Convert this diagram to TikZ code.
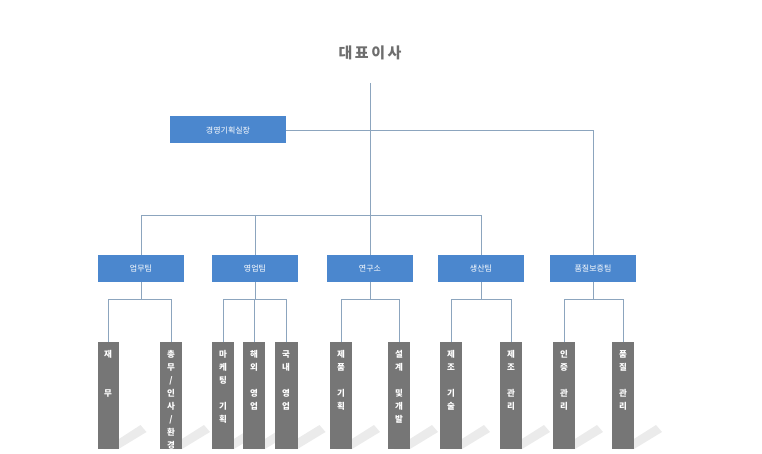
\documentclass[tikz,border=0pt]{standalone}
\usepackage{fontspec}
\setmainfont{Noto Sans CJK KR}
\begin{document}
\begin{tikzpicture}[x=1pt,y=-1pt,
  team/.style={fill={rgb,255:red,75;green,135;blue,206}, text=white, minimum width=86pt, minimum height=27pt, inner sep=0pt, font=\fontsize{8}{9}\selectfont},
  bar/.style={fill={rgb,255:red,118;green,118;blue,118}, text=white, font=\bfseries\fontsize{8.5}{13}\selectfont, align=center, anchor=north, inner sep=0pt},
  ln/.style={draw={rgb,255:red,140;green,165;blue,190}, line width=0.7pt}]
\useasboundingbox (0,0) rectangle (762,454);
\node[font=\bfseries\fontsize{15}{18}\selectfont, text={rgb,255:red,110;green,110;blue,110}] (ceo) at (370,53) {대\,표\,이\,사};
\coordinate (ceob) at (370,83);
\node[team, minimum width=116pt] (plan) at (228,130) {경영기획실장};
\foreach \n/\x/\t in {t1/141/업무팀, t2/255/영업팀, t3/370/연구소, t4/481/생산팀, t5/593/품질보증팀}
  \node[team] (\n) at (\x,268.5) {\t};
\draw[ln] (ceob) -- (370,215);
\draw[ln] (plan.east) -- (593,130) -- (t5.north);
\draw[ln] (t1.north) -- (141,215) -- (481,215) -- (t4.north);
\draw[ln] (255,215) -- (t2.north);
\draw[ln] (370,215) -- (t3.north);
\foreach \n/\x/\w/\t in {
  b1/108/21/{재\\~\\~\\무},
  b2/171/22/{총\\무\\/\\인\\사\\/\\환\\경},
  b3/223/22/{마\\케\\팅\\~\\기\\획},
  b4/254/22/{해\\외\\~\\영\\업},
  b5/286/23/{국\\내\\~\\영\\업},
  b6/341/22/{제\\품\\~\\기\\획},
  b7/399/22/{설\\계\\~\\및\\개\\발},
  b8/451/22/{제\\조\\~\\기\\술},
  b9/511/22/{제\\조\\~\\관\\리},
  b10/564/22/{인\\증\\~\\관\\리},
  b11/623/22/{품\\질\\~\\관\\리}}
{
  \fill[black!8] (\x-\w/2+6,449) -- (\x+\w/2+22,425) -- (\x+\w/2+28,432) -- (\x+\w/2,449) -- cycle;
  \node[bar, minimum width=\w pt, minimum height=107pt] (\n) at (\x,342) {};
  \node[bar, text width=\w pt] at (\x,350) {\t};
}
\foreach \t/\a/\b in {t1/b1/b2, t2/b3/b5, t3/b6/b7, t4/b8/b9, t5/b10/b11}{
  \draw[ln] (\t.south) -- (\t.south |- 0,299);
  \draw[ln] (\a.north) -- (\a.north |- 0,299) -- (\b.north |- 0,299) -- (\b.north);
}
\draw[ln] (b4.north) -- (b4.north |- 0,299);
\end{tikzpicture}
\end{document}
